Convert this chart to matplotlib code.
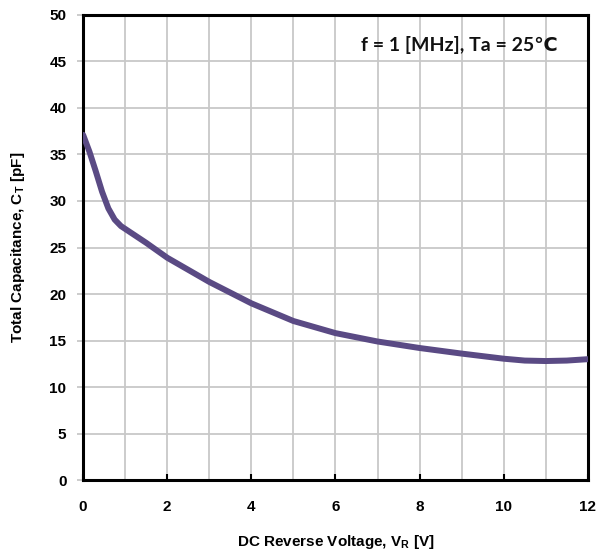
#!/usr/bin/env python3

import numpy as np
import matplotlib.pyplot as plt

# values
vr = [0.0, 0.15, 0.3, 0.45, 0.6, 0.75, 0.9, 1.0, 1.5, 2.0, 2.5, 3.0, 4.0,
      5.0, 6.0, 7.0, 8.0, 9.0, 10.0, 10.5, 11.0, 11.5, 12.0]
ct = [37.1, 35.3, 33.2, 31.0, 29.2, 28.0, 27.3, 27.0, 25.5, 23.9, 22.6, 21.3,
      19.0, 17.1, 15.8, 14.9, 14.2, 13.6, 13.05, 12.85, 12.8, 12.85, 13.0]

x_ticks = [0, 2, 4, 6, 8, 10, 12]
y_ticks = [0, 5, 10, 15, 20, 25, 30, 35, 40, 45, 50]

plt.rcParams['font.family'] = ['Liberation Sans', 'DejaVu Sans']
plt.rcParams['mathtext.fontset'] = 'custom'
plt.rcParams['mathtext.rm'] = 'Liberation Sans:bold'


def main():
    fig = plt.figure(figsize=(5.98, 5.5), dpi=100)
    ax = fig.add_axes([0.139, 0.127, 0.844, 0.846])

    # ruudukko: joka volt x-suunnassa, 5 pF y-suunnassa
    for v in np.arange(1, 12):
        ax.axvline(v, color='#c8c8c8', lw=1.3, zorder=1)
    for c in y_ticks[1:-1]:
        ax.axhline(c, color='#c8c8c8', lw=1.3, zorder=1)

    ax.plot(vr, ct, color='#5a4a84', lw=4.3, solid_capstyle='round',
            solid_joinstyle='round', zorder=3)

    ax.set_xlim(0, 12)
    ax.set_ylim(0, 50)
    ax.set_xticks(x_ticks)
    ax.set_yticks(y_ticks)
    ax.tick_params(axis='x', direction='in', length=4, width=1.5, pad=14,
                   labelsize=11)
    ax.tick_params(axis='y', direction='out', length=4, width=1.3, pad=8,
                   labelsize=11, color='#c8c8c8')
    for lab in ax.get_xticklabels() + ax.get_yticklabels():
        lab.set_fontweight('bold')
    for s in ax.spines.values():
        s.set_linewidth(2.2)
        s.set_color('black')

    ax.set_xlabel('DC Reverse Voltage, V$_{\\mathregular{R}}$ [V]',
                  fontsize=11, fontweight='bold', labelpad=14)
    ax.set_ylabel('Total Capacitance, C$_{\\mathregular{T}}$ [pF]',
                  fontsize=11, fontweight='bold', labelpad=16)

    ax.text(0.94, 0.935, 'f = 1 [MHz], Ta = 25\u2103', transform=ax.transAxes,
            ha='right', va='center', fontsize=14, fontweight='bold',
            family=['Lato', 'DejaVu Sans'], color='#111111')

    fig.savefig('out.png', dpi=100)


if __name__ == "__main__":
    main()
